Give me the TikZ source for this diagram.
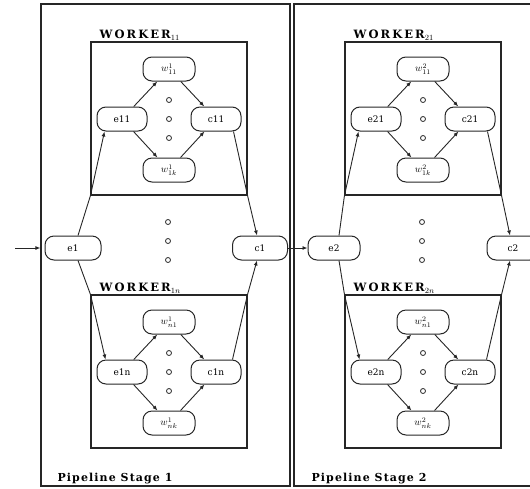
\documentclass[tikz,border=0pt]{standalone}
\usepackage{fontspec}
\setmainfont{DejaVu Serif}
\usepackage{amsmath}
\usetikzlibrary{arrows.meta,positioning}
\colorlet{pipeink}{black!85}
\tikzset{
  pipetask/.style={draw=pipeink,rounded corners=9pt,line width=1pt,
                   minimum width=52pt,minimum height=24pt,inner sep=1pt,
                   font=\small},
  pipebox/.style={draw=pipeink,line width=1.1pt,minimum width=156pt,
                  minimum height=153pt,inner sep=0pt},
  pipestage/.style={draw=pipeink,line width=1.2pt,minimum width=249pt,
                    minimum height=482pt,inner sep=0pt},
  pipeflow/.style={-{Latex[length=5pt,width=4pt]},line width=0.9pt,pipeink},
  pipedot/.style={circle,draw=pipeink,line width=0.8pt,minimum size=5pt,
                  inner sep=0pt},
  pipehead/.style={font=\bfseries\addfontfeature{LetterSpace=18}\fontsize{11.5}{13}\selectfont,
                   inner sep=1pt},
  pipestagelabel/.style={font=\bfseries\addfontfeature{LetterSpace=10}\fontsize{11}{13}\selectfont,
                         inner sep=1pt}
}

\begin{document}
\begin{tikzpicture}[x=1pt,y=-1pt]
  \useasboundingbox (0,0) rectangle (530,488);

  % stages
  \node[pipestage] (S1) at (165.5,245) {};
  \node[pipestage,minimum width=251pt] (S2) at (419.5,245) {};
  \node[pipestagelabel,anchor=south west] (S1lab) at ([shift={(16pt,1pt)}]S1.south west) {Pipeline Stage 1};
  \node[pipestagelabel,anchor=south west] (S2lab) at ([shift={(17pt,1pt)}]S2.south west) {Pipeline Stage 2};

  % emitters and collectors of each stage
  \node[pipetask,minimum width=56pt] (e1) at (73,248) {e1};
  \node[pipetask,minimum width=55pt] (c1) at (260,248) {c1};
  \node[pipetask] (e2) at (334,248) {e2};
  \node[pipetask] (c2) at (513,248) {c2};

  \foreach \x/\st in {168/1,422/2}{
    \foreach \d in {222,241,260}
      \node[pipedot] (m\st-\d) at (\x,\d) {};
  }

  % workers
  \foreach \st/\wk/\ox/\oy in {1/1/91/42, 1/n/91/295, 2/1/345/42, 2/n/345/295}{
    \begin{scope}[shift={(\ox,\oy)}]
      \node[pipebox] (W\st\wk) at (78,76.5) {};
      \node[pipehead,anchor=south west] (L\st\wk) at ([xshift=8pt]W\st\wk.north west) {WORKER$_{\st\wk}$};
      \node[pipetask,minimum width=50pt] (e\st\wk) at (31,77) {e\st\wk};
      \node[pipetask,minimum width=50pt] (c\st\wk) at (125,77) {c\st\wk};
      \node[pipetask,font=\normalsize] (wt\st\wk) at (78,27) {$w^{\st}_{\wk 1}$};
      \node[pipetask,font=\normalsize] (wb\st\wk) at (78,128) {$w^{\st}_{\wk k}$};
      \foreach \d in {58,77,96}
        \node[pipedot] (d\st\wk-\d) at (78,\d) {};
      \draw[pipeflow] (e\st\wk) -- (wt\st\wk);
      \draw[pipeflow] (e\st\wk) -- (wb\st\wk);
      \draw[pipeflow] (wt\st\wk) -- (c\st\wk);
      \draw[pipeflow] (wb\st\wk) -- (c\st\wk);
    \end{scope}
  }

  % stage wiring
  \foreach \st in {1,2}{
    \draw[pipeflow] ([xshift=5pt]e\st.north) -- (W\st1.south west) -- ([xshift=8pt]e\st1.south west);
    \draw[pipeflow] ([xshift=-8pt]c\st1.south east) -- (W\st1.south east) -- ([xshift=-3pt]c\st.north);
    \draw[pipeflow] ([xshift=5pt]e\st.south) -- (W\st n.north west) -- ([xshift=9pt]e\st n.north west);
    \draw[pipeflow] ([xshift=-9pt]c\st n.north east) -- (W\st n.north east) -- ([xshift=-3pt]c\st.south);
  }

  \coordinate (src) at (15,248);
  \draw[pipeflow] (src) -- (src -| S1.west);
  \draw[pipeflow] (c1) -- (e2);
\end{tikzpicture}
\end{document}
